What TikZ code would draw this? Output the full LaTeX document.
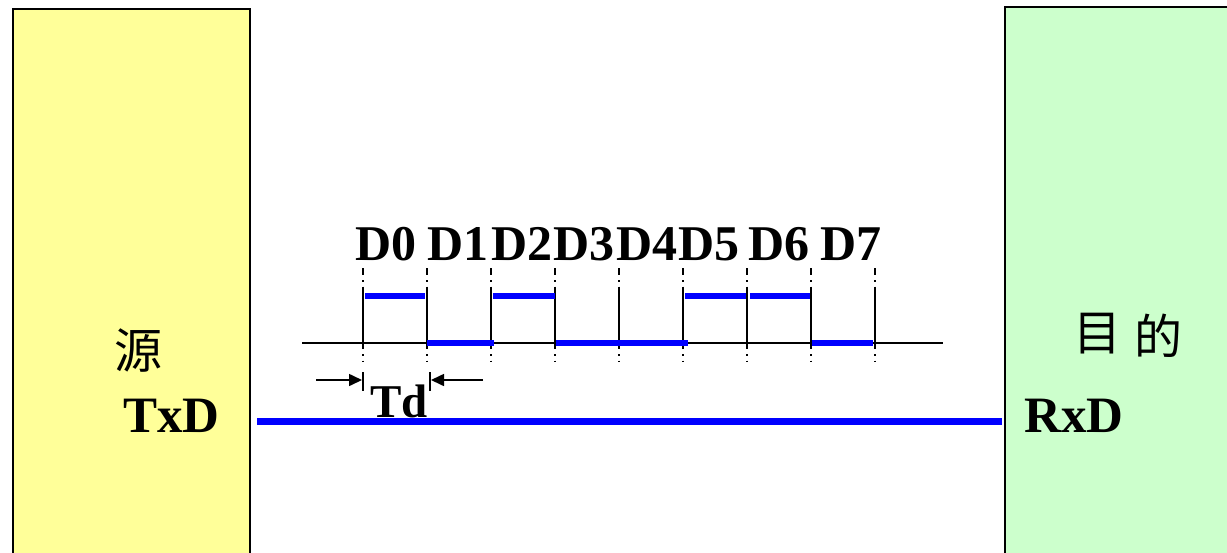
\documentclass[tikz,border=0pt]{standalone}
\usepackage{fontspec}
\setmainfont{Liberation Serif}
\newfontfamily\cjk{Noto Sans CJK SC}
\usetikzlibrary{arrows.meta}
\definecolor{srcfill}{HTML}{FFFF99}
\definecolor{dstfill}{HTML}{CCFFCC}
\definecolor{sigblue}{HTML}{0000FF}
\tikzset{
  unitbox/.style={draw=black, line width=2.5pt},
  latin/.style={inner sep=0pt, anchor=base west, font=\fontsize{51}{51}\selectfont\bfseries},
  hanzi/.style={inner sep=0pt, anchor=center, font=\fontsize{48}{48}\selectfont\cjk},
  bitlabel/.style={inner sep=0pt, anchor=base west, font=\fontsize{50}{50}\selectfont\bfseries},
  axis/.style={black, line width=2pt},
  edge/.style={black, line width=1.6pt},
  guide/.style={black, line width=1.4pt, dash pattern=on 7pt off 5pt on 1.5pt off 5pt},
  level/.style={sigblue, line width=6.5pt},
  wire/.style={sigblue, line width=7pt},
  dim/.style={black, line width=1.6pt, -{Triangle[length=13pt,width=12pt]}}
}
\begin{document}
\begin{tikzpicture}[x=1pt, y=-1pt]
\useasboundingbox (0,0) rectangle (1227,552);
\clip (0,0) rectangle (1227,552);

% source and destination units
\draw[unitbox, fill=srcfill] (13,9) rectangle (250,600);
\draw[unitbox, fill=dstfill] (1005,7) rectangle (1240,600);

\node[hanzi] (src) at (138.5,351) {源};
\node[latin] (txd) at (123,432) {TxD};
\node[hanzi] (mu) at (1097,334) {目};
\node[hanzi] (di) at (1158,336) {的};
\node[latin] (rxd) at (1024,432) {RxD};

% transmission line
\coordinate (wireA) at (257,421);
\coordinate (wireB) at (1002,421);
\draw[wire] (wireA) -- (wireB);

% bit time grid
\foreach \i in {0,...,8} {
  \coordinate (t\i) at ({363+64*\i},343);
  \coordinate (g\i) at ({363+64*\i},268);
  \coordinate (h\i) at ({363+64*\i},362);
  \coordinate (u\i) at ({363+64*\i},290);
  \draw[guide] (g\i) -- (h\i);
  \draw[edge] (u\i) -- (t\i);
}
\coordinate (axL) at (302,343);
\coordinate (axR) at (943,343);
\draw[axis] (axL) -- (axR);

% data bits D0..D7 = 1 0 1 0 0 1 1 0
\draw[level] (365,296) -- (425,296);
\draw[level] (493,296) -- (555,296);
\draw[level] (685,296) -- (746,296);
\draw[level] (750,296) -- (810,296);
\draw[level] (427,343) -- (494,343);
\draw[level] (556,343) -- (688,343);
\draw[level] (812,343) -- (873,343);

% bit labels
\node[bitlabel] (d0) at (355,260) {D0};
\node[bitlabel] (d1) at (427,260) {D1};
\node[bitlabel] (d2) at (491,260) {D2};
\node[bitlabel] (d3) at (553,260) {D3};
\node[bitlabel] (d4) at (616,260) {D4};
\node[bitlabel] (d5) at (678,260) {D5};
\node[bitlabel] (d6) at (748,260) {D6};
\node[bitlabel] (d7) at (820,260) {D7};

% bit time Td
\coordinate (tdL1) at (363,372);
\coordinate (tdL2) at (363,391);
\coordinate (tdR1) at (430,372);
\coordinate (tdR2) at (430,391);
\draw[edge] (tdL1) -- (tdL2);
\draw[edge] (tdR1) -- (tdR2);
\coordinate (arL0) at (316,380);
\coordinate (arL1) at (362,380);
\coordinate (arR0) at (483,380);
\coordinate (arR1) at (431,380);
\draw[dim] (arL0) -- (arL1);
\draw[dim] (arR0) -- (arR1);
\node[bitlabel, font=\fontsize{47}{47}\selectfont\bfseries] (td) at (370,417) {Td};
\end{tikzpicture}
\end{document}
